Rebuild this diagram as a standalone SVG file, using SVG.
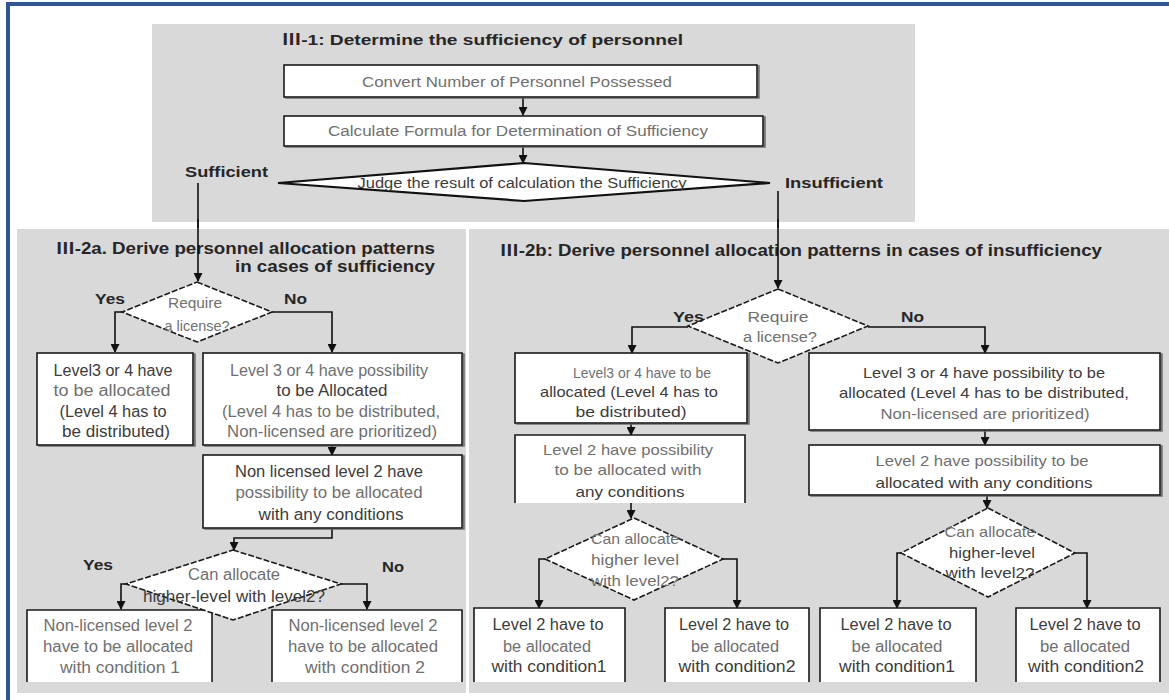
<svg xmlns="http://www.w3.org/2000/svg" width="1169" height="700" viewBox="0 0 1169 700">
  <style>
    .panel { fill: #d9d9d9; }
    .box { fill: #ffffff; stroke: #1a1a1a; stroke-width: 1.6; }
    .fill { fill: #ffffff; stroke: none; }
    .edge { fill: none; stroke: #1a1a1a; stroke-width: 1.6; }
    .dia { fill: #ffffff; stroke: #1a1a1a; stroke-width: 1.6; stroke-dasharray: 6 2; }
    .judge { fill: #ffffff; stroke: #111111; stroke-width: 2.2; }
    .conn { fill: none; stroke: #111111; stroke-width: 1.6; }
    .title { font-family: "Liberation Sans", "Noto Sans CJK JP", sans-serif; font-weight: bold; fill: #262626; }
    .lbl { font-family: "Liberation Sans", Arial, sans-serif; font-weight: bold; font-size: 15px; fill: #262626; }
    .t { font-family: "Liberation Sans", Arial, sans-serif; fill: #3c3c3c; text-anchor: middle; }
    .tl { font-family: "Liberation Sans", Arial, sans-serif; fill: #707070; text-anchor: middle; }
    .s14 { font-size: 14px; }
    .s15 { font-size: 15px; }
    .s16 { font-size: 16px; }
  </style>
  <defs>
    <marker id="ah" markerWidth="9" markerHeight="9" refX="8" refY="4.5" orient="auto" markerUnits="userSpaceOnUse">
      <path d="M0,0 L9,4.5 L0,9 z" fill="#111111"/>
    </marker>
    <filter id="sh" x="-5%" y="-5%" width="115%" height="115%">
      <feDropShadow dx="2" dy="1" stdDeviation="0.6" flood-color="#6a6a6a" flood-opacity="0.9"/>
    </filter>
  </defs>

  <!-- page frame -->
  <rect x="0" y="0" width="1169" height="700" fill="#ffffff"/>
  <rect x="6" y="2" width="1163" height="4" fill="#2f5597"/>
  <rect x="6" y="2" width="4" height="698" fill="#2f5597"/>

  <!-- section backgrounds -->
  <g id="panel-1">
    <rect class="panel" x="152" y="24" width="763" height="198"/>
    <text class="title" x="282" y="45" font-size="15" textLength="401" lengthAdjust="spacingAndGlyphs">Ⅲ-1: Determine the sufficiency  of personnel</text>
  </g>
  <g id="panel-2a">
    <rect class="panel" x="17" y="229" width="449" height="464"/>
    <text class="title" x="56" y="254" font-size="16" textLength="379" lengthAdjust="spacingAndGlyphs">Ⅲ-2a. Derive personnel allocation patterns</text>
    <text class="title" x="235" y="272" font-size="16" textLength="200" lengthAdjust="spacingAndGlyphs">in cases of sufficiency</text>
  </g>
  <g id="panel-2b">
    <rect class="panel" x="469" y="229" width="700" height="464"/>
    <text class="title" x="500" y="256" font-size="16" textLength="602" lengthAdjust="spacingAndGlyphs">Ⅲ-2b: Derive personnel allocation patterns in cases of insufficiency</text>
  </g>

  <!-- connectors -->
  <g id="connectors">
    <path class="conn" d="M523,97 V115" marker-end="url(#ah)"/>
    <path class="conn" d="M523,146 V163" marker-end="url(#ah)"/>
    <path class="conn" d="M198,183 V281" marker-end="url(#ah)"/>
    <path class="conn" d="M198,219 V228" stroke-width="3.2"/>
    <path class="conn" d="M778,191 V288" marker-end="url(#ah)"/>
    <path class="conn" d="M778,219 V228" stroke-width="2.6"/>
    <!-- sufficiency branch -->
    <path class="conn" d="M122,312 H115 V352" marker-end="url(#ah)"/>
    <path class="conn" d="M272,312 H332 V352" marker-end="url(#ah)"/>
    <path class="conn" d="M332,445 V455" marker-end="url(#ah)"/>
    <path class="conn" d="M332,528 V538 H234 V550" marker-end="url(#ah)"/>
    <path class="conn" d="M126,584 H121 V609" marker-end="url(#ah)"/>
    <path class="conn" d="M340,584 H367 V609" marker-end="url(#ah)"/>
    <!-- insufficiency branch -->
    <path class="conn" d="M688,327 H632 V353" marker-end="url(#ah)"/>
    <path class="conn" d="M868,327 H985 V353" marker-end="url(#ah)"/>
    <path class="conn" d="M631,423 V435" marker-end="url(#ah)"/>
    <path class="conn" d="M985,430 V445" marker-end="url(#ah)"/>
    <path class="conn" d="M631,503 V518" marker-end="url(#ah)"/>
    <path class="conn" d="M987,495 V508" marker-end="url(#ah)"/>
    <path class="conn" d="M545,559 H539 V608" marker-end="url(#ah)"/>
    <path class="conn" d="M723,559 H737 V608" marker-end="url(#ah)"/>
    <path class="conn" d="M901,553 H897 V608" marker-end="url(#ah)"/>
    <path class="conn" d="M1075,553 H1087 V608" marker-end="url(#ah)"/>
  </g>

  <!-- determination of sufficiency -->
  <g id="convert">
    <rect class="box" x="284" y="65" width="473" height="32" filter="url(#sh)"/>
    <text class="tl s14" x="517" y="87" textLength="310" lengthAdjust="spacingAndGlyphs">Convert  Number of Personnel Possessed</text>
  </g>
  <g id="calculate">
    <rect class="box" x="284" y="116" width="479" height="30" filter="url(#sh)"/>
    <text class="tl s14" x="518" y="136" textLength="380" lengthAdjust="spacingAndGlyphs">Calculate Formula for Determination of Sufficiency</text>
  </g>
  <g id="judge">
    <polygon class="judge" points="278,183 524,163 770,183 524,201"/>
    <text class="t s14" x="522" y="188" fill="#222" textLength="329" lengthAdjust="spacingAndGlyphs">Judge the result of calculation the Sufficiency</text>
  </g>
  <text class="lbl" x="185" y="177" textLength="83" lengthAdjust="spacingAndGlyphs">Sufficient</text>
  <text class="lbl" x="785" y="188" textLength="98" lengthAdjust="spacingAndGlyphs">Insufficient</text>

  <!-- sufficiency patterns -->
  <g id="a-license">
    <polygon class="dia" points="197,282 272,312 197,342 122,312"/>
    <text class="tl s15" x="195" y="308" textLength="54" lengthAdjust="spacingAndGlyphs">Require</text>
    <text class="tl s15" x="197" y="331" textLength="65" lengthAdjust="spacingAndGlyphs">a license?</text>
  </g>
  <text class="lbl" x="95" y="304" textLength="30" lengthAdjust="spacingAndGlyphs">Yes</text>
  <text class="lbl" x="284" y="304" textLength="23" lengthAdjust="spacingAndGlyphs">No</text>

  <g id="a-yes">
    <rect class="box" x="37" y="353" width="156" height="92" filter="url(#sh)"/>
    <text class="t s16" x="113" y="376" textLength="119" lengthAdjust="spacingAndGlyphs">Level3 or 4 have</text>
    <text class="tl s16" x="112" y="396" textLength="117" lengthAdjust="spacingAndGlyphs">to be allocated</text>
    <text class="t s16" x="113" y="417" textLength="107" lengthAdjust="spacingAndGlyphs">(Level 4 has to</text>
    <text class="t s16" x="116" y="437" textLength="108" lengthAdjust="spacingAndGlyphs">be distributed)</text>
  </g>
  <g id="a-no">
    <rect class="box" x="203" y="353" width="259" height="92" filter="url(#sh)"/>
    <text class="tl s16" x="329" y="376" textLength="198" lengthAdjust="spacingAndGlyphs">Level 3 or 4 have possibility</text>
    <text class="t s16" x="332" y="396" textLength="111" lengthAdjust="spacingAndGlyphs">to be Allocated</text>
    <text class="tl s16" x="331" y="417" textLength="218" lengthAdjust="spacingAndGlyphs">(Level 4 has to be distributed,</text>
    <text class="tl s16" x="332" y="437" textLength="210" lengthAdjust="spacingAndGlyphs">Non-licensed are prioritized)</text>
  </g>
  <g id="a-level2">
    <rect class="box" x="203" y="455" width="259" height="73" filter="url(#sh)"/>
    <text class="t s16" x="329" y="477" textLength="188" lengthAdjust="spacingAndGlyphs">Non licensed level 2 have</text>
    <text class="tl s16" x="329" y="498" textLength="187" lengthAdjust="spacingAndGlyphs">possibility to be allocated</text>
    <text class="t s16" x="331" y="520" textLength="145" lengthAdjust="spacingAndGlyphs">with any conditions</text>
  </g>

  <g id="a-cond1">
    <rect class="fill" x="27" y="610" width="185" height="72"/>
    <path class="edge" d="M27,682 V610 H212 V682"/>
    <text class="tl s16" x="118" y="631" textLength="149" lengthAdjust="spacingAndGlyphs">Non-licensed level 2</text>
    <text class="tl s16" x="118" y="652" textLength="150" lengthAdjust="spacingAndGlyphs">have to be allocated</text>
    <text class="tl s16" x="120" y="673" textLength="120" lengthAdjust="spacingAndGlyphs">with condition 1</text>
  </g>
  <g id="a-cond2">
    <rect class="fill" x="272" y="610" width="190" height="72"/>
    <path class="edge" d="M272,682 V610 H462 V682"/>
    <text class="tl s16" x="363" y="631" textLength="149" lengthAdjust="spacingAndGlyphs">Non-licensed level 2</text>
    <text class="tl s16" x="363" y="652" textLength="150" lengthAdjust="spacingAndGlyphs">have to be allocated</text>
    <text class="tl s16" x="365" y="673" textLength="120" lengthAdjust="spacingAndGlyphs">with condition 2</text>
  </g>
  <g id="a-higher">
    <polygon class="dia" points="233,550 341,584 233,620 126,584"/>
    <text class="tl s16" x="234" y="580" textLength="92" lengthAdjust="spacingAndGlyphs">Can allocate</text>
    <text class="t s16" x="234" y="602" textLength="182" lengthAdjust="spacingAndGlyphs">higher-level with level2?</text>
  </g>
  <text class="lbl" x="83" y="570" textLength="30" lengthAdjust="spacingAndGlyphs">Yes</text>
  <text class="lbl" x="382" y="572" textLength="22" lengthAdjust="spacingAndGlyphs">No</text>

  <!-- insufficiency patterns -->
  <g id="b-license">
    <polygon class="dia" points="778,289 868,326 778,363 688,326"/>
    <text class="tl s15" x="778" y="322" textLength="61" lengthAdjust="spacingAndGlyphs">Require</text>
    <text class="tl s15" x="780" y="342" textLength="74" lengthAdjust="spacingAndGlyphs">a license?</text>
  </g>
  <text class="lbl" x="673" y="322" textLength="31" lengthAdjust="spacingAndGlyphs">Yes</text>
  <text class="lbl" x="901" y="322" textLength="23" lengthAdjust="spacingAndGlyphs">No</text>

  <g id="b-yes">
    <rect class="box" x="515" y="353" width="232" height="70" filter="url(#sh)"/>
    <text class="tl s15" x="642" y="378" textLength="138" lengthAdjust="spacingAndGlyphs">Level3 or 4 have to be</text>
    <text class="t s15" x="629" y="397" textLength="178" lengthAdjust="spacingAndGlyphs">allocated (Level 4 has to</text>
    <text class="t s15" x="631" y="417" textLength="111" lengthAdjust="spacingAndGlyphs">be distributed)</text>
  </g>
  <g id="b-no">
    <rect class="box" x="809" y="353" width="351" height="77" filter="url(#sh)"/>
    <text class="t s15" x="984" y="378" textLength="242" lengthAdjust="spacingAndGlyphs">Level 3 or 4 have possibility to be</text>
    <text class="t s15" x="984" y="398" textLength="290" lengthAdjust="spacingAndGlyphs">allocated (Level 4 has to be distributed,</text>
    <text class="tl s15" x="985" y="419" textLength="209" lengthAdjust="spacingAndGlyphs">Non-licensed are prioritized)</text>
  </g>
  <g id="b-level2-yes">
    <rect class="fill" x="515" y="435" width="230" height="68"/>
    <path class="edge" d="M515,503 V435 H745 V503"/>
    <text class="tl s15" x="628" y="455" textLength="170" lengthAdjust="spacingAndGlyphs">Level 2 have possibility</text>
    <text class="tl s15" x="628" y="475" textLength="147" lengthAdjust="spacingAndGlyphs">to be allocated with</text>
    <text class="t s15" x="630" y="497" textLength="109" lengthAdjust="spacingAndGlyphs">any conditions</text>
  </g>
  <g id="b-level2-no">
    <rect class="box" x="809" y="445" width="351" height="50" filter="url(#sh)"/>
    <text class="tl s15" x="982" y="466" textLength="213" lengthAdjust="spacingAndGlyphs">Level 2 have possibility to be</text>
    <text class="t s15" x="984" y="488" textLength="217" lengthAdjust="spacingAndGlyphs">allocated with any conditions</text>
  </g>
  <g id="b-higher-yes">
    <polygon class="dia" points="634,518 723,559 634,600 545,559"/>
    <text class="tl s15" x="635" y="544" textLength="88" lengthAdjust="spacingAndGlyphs">Can allocate</text>
    <text class="tl s15" x="635" y="565" textLength="88" lengthAdjust="spacingAndGlyphs">higher level</text>
    <text class="tl s15" x="635" y="586" textLength="88" lengthAdjust="spacingAndGlyphs">with level2?</text>
  </g>
  <g id="b-higher-no">
    <polygon class="dia" points="988,508 1075,553 988,597 901,553"/>
    <text class="tl s15" x="990" y="537" textLength="91" lengthAdjust="spacingAndGlyphs">Can allocate</text>
    <text class="t s15" x="992" y="558" textLength="86" lengthAdjust="spacingAndGlyphs">higher-level</text>
    <text class="t s15" x="990" y="578" textLength="89" lengthAdjust="spacingAndGlyphs">with level2?</text>
  </g>

  <g id="b-cond1-yes">
    <rect class="fill" x="474" y="608" width="151" height="74"/>
    <path class="edge" d="M474,682 V608 H625 V682"/>
    <text class="t s16" x="548" y="630" textLength="111" lengthAdjust="spacingAndGlyphs">Level 2 have to</text>
    <text class="tl s16" x="547" y="652" textLength="88" lengthAdjust="spacingAndGlyphs">be allocated</text>
    <text class="t s16" x="549" y="672" textLength="115" lengthAdjust="spacingAndGlyphs">with condition1</text>
  </g>
  <g id="b-cond2-yes">
    <rect class="fill" x="665" y="608" width="144" height="74"/>
    <path class="edge" d="M665,682 V608 H809 V682"/>
    <text class="t s16" x="734" y="630" textLength="110" lengthAdjust="spacingAndGlyphs">Level 2 have to</text>
    <text class="tl s16" x="735" y="652" textLength="88" lengthAdjust="spacingAndGlyphs">be allocated</text>
    <text class="t s16" x="737" y="672" textLength="117" lengthAdjust="spacingAndGlyphs">with condition2</text>
  </g>
  <g id="b-cond1-no">
    <rect class="fill" x="820" y="608" width="156" height="74"/>
    <path class="edge" d="M820,682 V608 H976 V682"/>
    <text class="t s16" x="896" y="630" textLength="111" lengthAdjust="spacingAndGlyphs">Level 2 have to</text>
    <text class="tl s16" x="897" y="652" textLength="91" lengthAdjust="spacingAndGlyphs">be allocated</text>
    <text class="t s16" x="897" y="672" textLength="116" lengthAdjust="spacingAndGlyphs">with condition1</text>
  </g>
  <g id="b-cond2-no">
    <rect class="fill" x="1016" y="608" width="144" height="74"/>
    <path class="edge" d="M1016,682 V608 H1160 V682"/>
    <text class="t s16" x="1085" y="630" textLength="111" lengthAdjust="spacingAndGlyphs">Level 2 have to</text>
    <text class="tl s16" x="1085" y="652" textLength="90" lengthAdjust="spacingAndGlyphs">be allocated</text>
    <text class="t s16" x="1086" y="672" textLength="116" lengthAdjust="spacingAndGlyphs">with condition2</text>
  </g>
</svg>
